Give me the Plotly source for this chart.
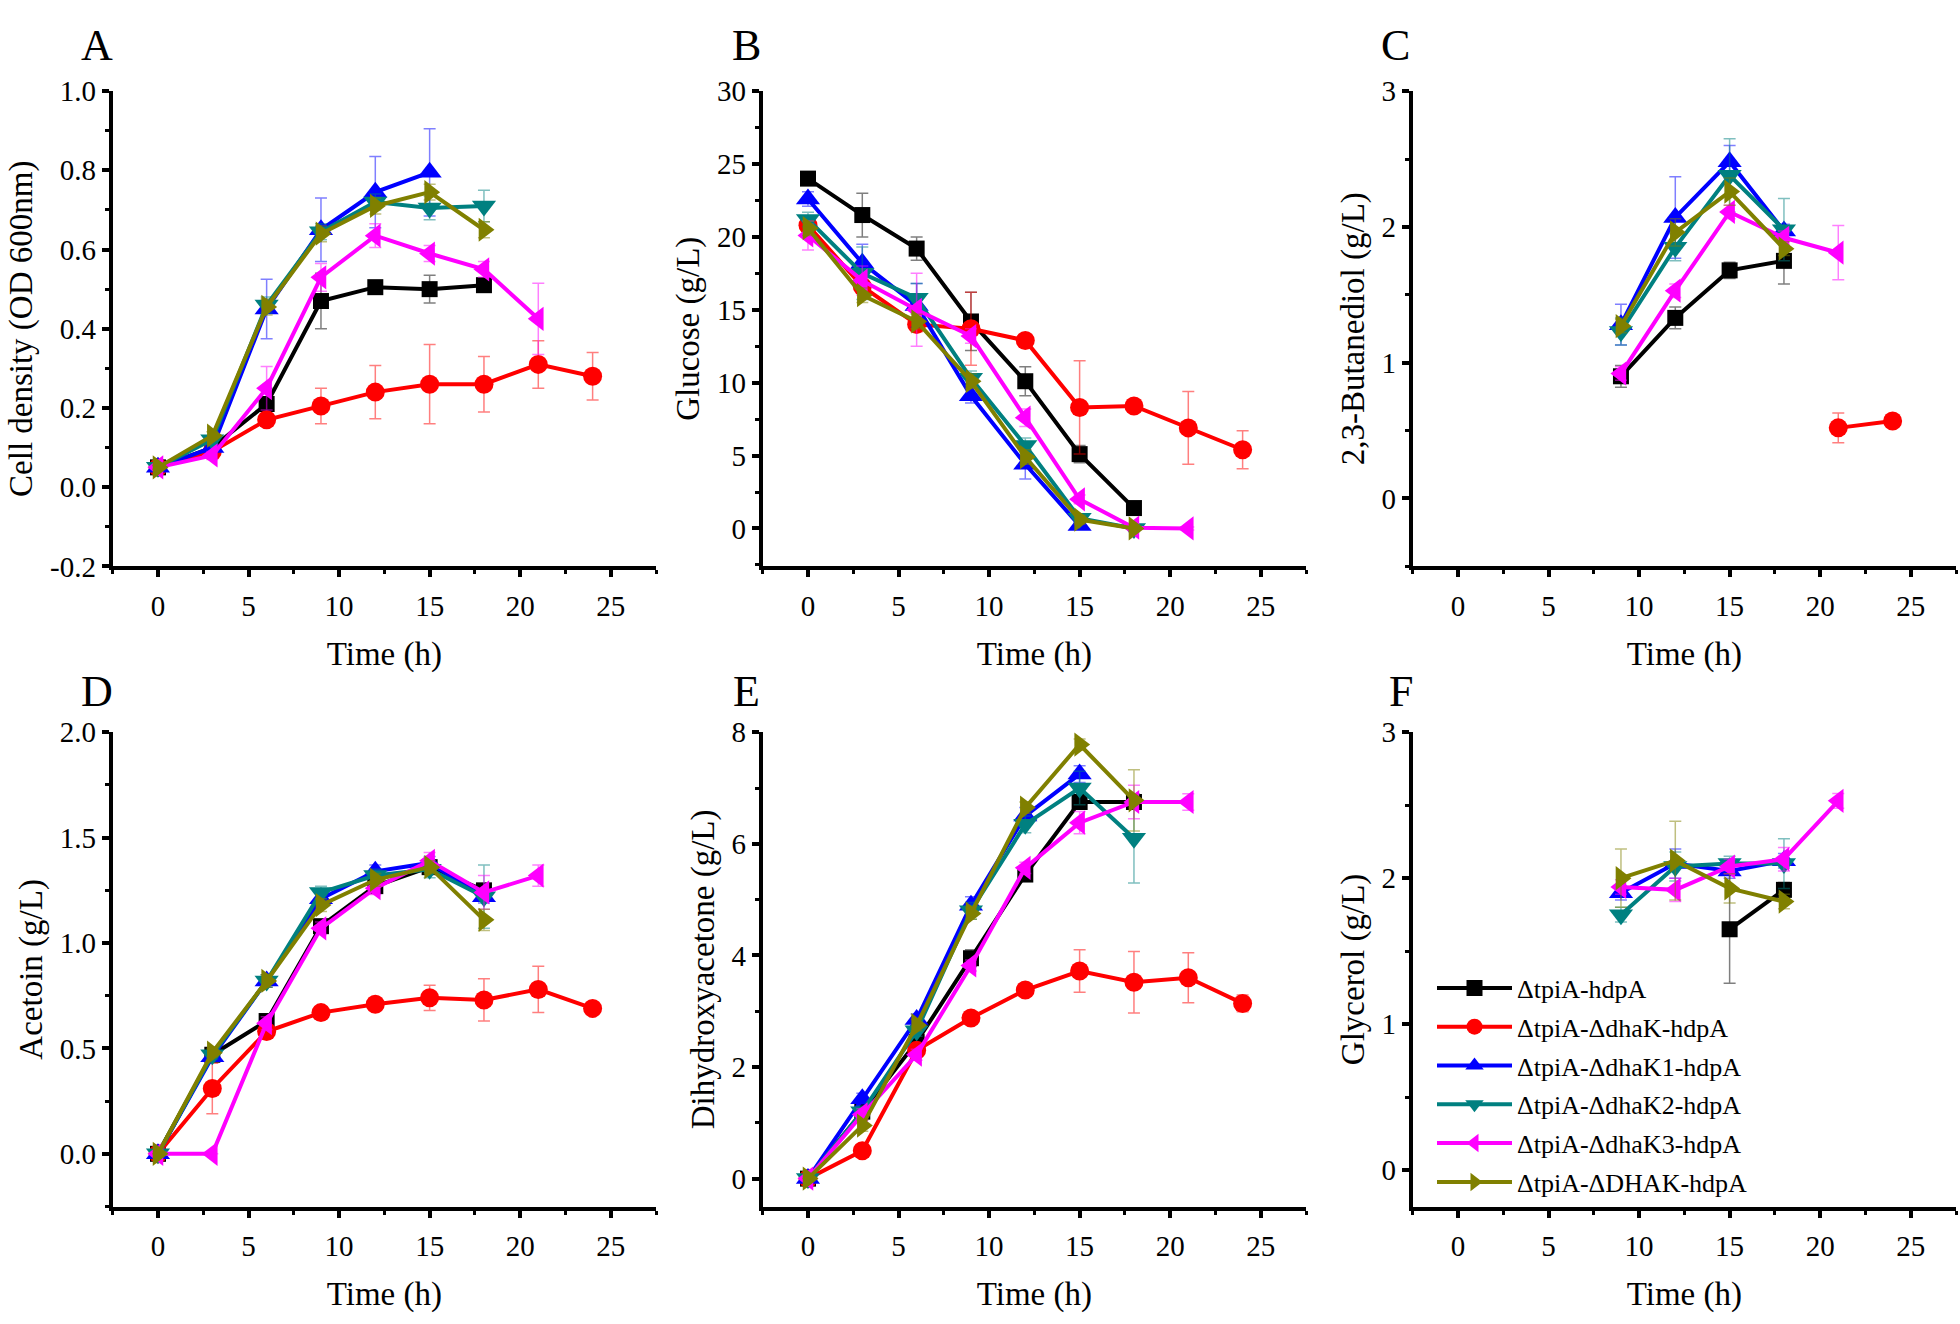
import plotly.graph_objects as go

N = None
TIME = [0, 3, 6, 9, 12, 15, 18, 21, 24]

STRAINS = ["ΔtpiA-hdpA", "ΔtpiA-ΔdhaK-hdpA", "ΔtpiA-ΔdhaK1-hdpA",
           "ΔtpiA-ΔdhaK2-hdpA", "ΔtpiA-ΔdhaK3-hdpA", "ΔtpiA-ΔDHAK-hdpA"]
COLORS = ["#000000", "#FF0000", "#0000FF", "#008080", "#FF00FF", "#808000"]
SYMBOLS = ["square", "circle", "triangle-up", "triangle-down", "triangle-left", "triangle-right"]
MARKER_SIZES = [16, 19, 21, 21, 21, 21]

# Panel A: cell density (OD600)
cell_density = [
    [0.05, 0.10, 0.21, 0.47, 0.505, 0.50, 0.51, N, N],
    [0.05, 0.09, 0.17, 0.205, 0.24, 0.26, 0.26, 0.31, 0.28],
    [0.05, 0.10, 0.45, 0.65, 0.745, 0.795, N, N, N],
    [0.05, 0.12, 0.46, 0.645, 0.72, 0.705, 0.71, N, N],
    [0.05, 0.08, 0.25, 0.53, 0.635, 0.59, 0.55, 0.425, N],
    [0.05, 0.13, 0.455, 0.64, 0.71, 0.745, 0.65, N, N],
]
cell_density_err = [
    [0.005, 0.01, 0.04, 0.07, 0.01, 0.035, 0.01, N, N],
    [0.005, 0.01, 0.01, 0.045, 0.067, 0.10, 0.07, 0.06, 0.06],
    [0.005, 0.01, 0.075, 0.08, 0.09, 0.11, N, N, N],
    [0.005, 0.01, 0.02, 0.02, 0.02, 0.03, 0.04, N, N],
    [0.005, 0.01, 0.055, 0.035, 0.03, 0.02, 0.02, 0.09, N],
    [0.005, 0.01, 0.02, 0.02, 0.02, 0.02, 0.02, N, N],
]

# Panel B: glucose (g/L)
glucose = [
    [24.0, 21.5, 19.2, 14.2, 10.1, 5.1, 1.4, N, N],
    [20.8, 16.6, 14.0, 13.7, 12.9, 8.3, 8.4, 6.9, 5.4],
    [22.6, 18.2, 15.3, 9.1, 4.4, 0.2, N, N, N],
    [21.2, 17.5, 15.8, 10.3, 5.7, 0.7, 0.0, N, N],
    [20.1, 17.0, 15.0, 13.2, 7.6, 2.0, 0.05, 0.0, N],
    [20.6, 16.0, 14.2, 10.1, 4.9, 0.6, 0.0, N, N],
]
glucose_err = [
    [0.3, 1.5, 0.8, 2.0, 1.0, 0.6, 0.3, N, N],
    [0.5, 0.5, 0.5, 2.5, 0.3, 3.2, 0.3, 2.5, 1.3],
    [0.5, 1.3, 1.5, 0.5, 1.0, 0.2, N, N, N],
    [0.5, 1.8, 1.0, 0.5, 0.5, 0.3, 0.2, N, N],
    [1.0, 1.0, 2.5, 0.5, 0.6, 0.3, 0.1, 0.1, N],
    [0.5, 0.5, 0.5, 0.5, 0.5, 0.3, 0.1, N, N],
]

# Panel C: 2,3-butanediol (g/L)
butanediol = [
    [N, N, N, 0.90, 1.33, 1.68, 1.75, N, N],
    [N, N, N, N, N, N, N, 0.52, 0.57],
    [N, N, N, 1.28, 2.07, 2.48, 1.97, N, N],
    [N, N, N, 1.23, 1.85, 2.38, 1.98, N, N],
    [N, N, N, 0.92, 1.53, 2.11, 1.92, 1.81, N],
    [N, N, N, 1.27, 1.96, 2.26, 1.84, N, N],
]
butanediol_err = [
    [N, N, N, 0.08, 0.08, 0.06, 0.17, N, N],
    [N, N, N, N, N, N, N, 0.11, 0.02],
    [N, N, N, 0.15, 0.30, 0.12, 0.05, N, N],
    [N, N, N, 0.10, 0.10, 0.27, 0.23, N, N],
    [N, N, N, 0.05, 0.05, 0.05, 0.05, 0.20, N],
    [N, N, N, 0.05, 0.10, 0.10, 0.05, N, N],
]

# Panel D: acetoin (g/L)
acetoin = [
    [0.0, 0.47, 0.63, 1.08, 1.27, 1.36, 1.25, N, N],
    [0.0, 0.31, 0.58, 0.67, 0.71, 0.74, 0.73, 0.78, 0.69],
    [0.0, 0.46, 0.82, 1.21, 1.34, 1.38, 1.22, N, N],
    [0.0, 0.47, 0.82, 1.24, 1.32, 1.35, 1.22, N, N],
    [0.0, 0.0, 0.62, 1.07, 1.26, 1.39, 1.24, 1.32, N],
    [0.0, 0.48, 0.82, 1.18, 1.30, 1.36, 1.11, N, N],
]
acetoin_err = [
    [0.0, 0.02, 0.03, 0.03, 0.03, 0.03, 0.03, N, N],
    [0.0, 0.12, 0.02, 0.02, 0.02, 0.06, 0.10, 0.11, 0.02],
    [0.0, 0.02, 0.03, 0.03, 0.03, 0.03, 0.03, N, N],
    [0.0, 0.02, 0.03, 0.03, 0.03, 0.04, 0.15, N, N],
    [0.0, 0.0, 0.03, 0.03, 0.03, 0.04, 0.08, 0.05, N],
    [0.0, 0.02, 0.03, 0.03, 0.03, 0.03, 0.05, N, N],
]

# Panel E: dihydroxyacetone (g/L)
dha = [
    [0.0, 1.20, 2.45, 3.95, 5.45, 6.75, 6.75, N, N],
    [0.0, 0.50, 2.30, 2.88, 3.38, 3.72, 3.52, 3.60, 3.14],
    [0.0, 1.43, 2.85, 4.90, 6.50, 7.25, N, N, N],
    [0.0, 1.20, 2.65, 4.80, 6.35, 7.00, 6.10, N, N],
    [0.0, 1.15, 2.22, 3.82, 5.57, 6.38, 6.75, 6.75, N],
    [0.0, 0.95, 2.75, 4.75, 6.65, 7.78, 6.78, N, N],
]
dha_err = [
    [0.0, 0.1, 0.1, 0.15, 0.1, 0.1, 0.1, N, N],
    [0.0, 0.1, 0.1, 0.1, 0.1, 0.38, 0.55, 0.45, 0.15],
    [0.0, 0.1, 0.1, 0.15, 0.15, 0.15, N, N, N],
    [0.0, 0.1, 0.1, 0.15, 0.15, 0.3, 0.8, N, N],
    [0.0, 0.1, 0.1, 0.1, 0.1, 0.2, 0.3, 0.15, N],
    [0.0, 0.1, 0.1, 0.1, 0.1, 0.1, 0.55, N, N],
]

# Panel F: glycerol (g/L)
glycerol = [
    [N, N, N, N, N, 1.65, 1.92, N, N],
    [N, N, N, N, N, N, N, N, N],
    [N, N, N, 1.90, 2.10, 2.05, 2.12, N, N],
    [N, N, N, 1.75, 2.08, 2.10, 2.10, N, N],
    [N, N, N, 1.94, 1.92, 2.08, 2.13, 2.53, N],
    [N, N, N, 2.00, 2.12, 1.93, 1.84, N, N],
]
glycerol_err = [
    [N, N, N, N, N, 0.37, 0.05, N, N],
    [N, N, N, N, N, N, N, N, N],
    [N, N, N, 0.05, 0.10, 0.05, 0.05, N, N],
    [N, N, N, 0.05, 0.10, 0.05, 0.17, N, N],
    [N, N, N, 0.05, 0.08, 0.05, 0.08, 0.05, N],
    [N, N, N, 0.20, 0.27, 0.10, 0.05, N, N],
]

PANEL_LETTERS = ["A", "B", "C", "D", "E", "F"]
Y_TITLES = ["Cell density (OD 600nm)", "Glucose (g/L)", "2,3-Butanediol (g/L)",
            "Acetoin (g/L)", "Dihydroxyacetone (g/L)", "Glycerol (g/L)"]
X_TITLE = "Time (h)"
X_TICKS = [0, 5, 10, 15, 20, 25]

panels = [
    (cell_density, cell_density_err, [-0.2, 1.0], 0.2, 0.1, ".1f"),
    (glucose, glucose_err, [-2.6, 30], 5, 2.5, "d"),
    (butanediol, butanediol_err, [-0.5, 3], 1, 0.5, "d"),
    (acetoin, acetoin_err, [-0.25, 2.0], 0.5, 0.25, ".1f"),
    (dha, dha_err, [-0.5, 8], 2, 1, "d"),
    (glycerol, glycerol_err, [-0.25, 3], 1, 0.5, "d"),
]

W, H = 1960, 1324
col_px = [(112.7, 656.0), (762.7, 1306.0), (1412.7, 1956.0)]
row_px = [(77.0, 564.0), (734.0, 1220.0)]
letter_pos = [(97, 30), (746, 30), (1395, 30), (97, 692), (746, 692), (1401, 692)]

FONT = "Liberation Serif"


def rgba(hexc, a):
    h = hexc.lstrip("#")
    return "rgba(%d,%d,%d,%.2f)" % (int(h[0:2], 16), int(h[2:4], 16), int(h[4:6], 16), a)


fig = go.Figure()
layout = dict(
    width=W, height=H,
    margin=dict(l=0, r=0, t=0, b=0),
    paper_bgcolor="white", plot_bgcolor="white",
    font=dict(family=FONT, color="black", size=29),
    annotations=[],
)

for p, (vals, errs, yr, dt, mdt, fmt) in enumerate(panels):
    r, c = divmod(p, 3)
    k = "" if p == 0 else str(p + 1)
    xa, ya = "xaxis" + k, "yaxis" + k
    x0, x1 = col_px[c]
    y0, y1 = row_px[r]
    common = dict(
        showline=True, linewidth=4, linecolor="black",
        ticks="outside", ticklen=7, tickwidth=4, tickcolor="black",
        showgrid=False, zeroline=False,
        tickfont=dict(family=FONT, size=29, color="black"),
        title_font=dict(family=FONT, size=33, color="black"),
    )
    layout[xa] = dict(
        common, domain=[x0 / W, x1 / W], anchor="y" + k,
        range=[-2.5, 27.5], tickmode="array", tickvals=X_TICKS,
        minor=dict(tickmode="linear", tick0=0, dtick=2.5, ticks="outside", ticklen=4,
                   tickwidth=3, tickcolor="black"),
        title=dict(text=X_TITLE, standoff=22),
        ticklabelstandoff=4,
    )
    tv = []
    v = 0.0
    while v <= yr[1] + 1e-9:
        tv.append(round(v, 4))
        v += dt
    if p == 0:
        tv = [-0.2] + tv
    if fmt == ".1f":
        tt = [("%.1f" % t) for t in tv]
    else:
        tt = [("%d" % round(t)) for t in tv]
    layout[ya] = dict(
        common, domain=[1 - y1 / H, 1 - y0 / H], anchor="x" + k,
        range=yr, tickmode="array", tickvals=tv, ticktext=tt,
        minor=dict(tickmode="linear", tick0=0, dtick=mdt, ticks="outside", ticklen=4,
                   tickwidth=3, tickcolor="black"),
        title=dict(text=Y_TITLES[p], standoff=8),
    )
    lx, ly = letter_pos[p]
    layout["annotations"].append(dict(
        text=PANEL_LETTERS[p], x=lx / W, y=1 - ly / H, xref="paper", yref="paper",
        showarrow=False, xanchor="center", yanchor="middle",
        font=dict(family=FONT, size=44, color="black")))

    for i in range(6):
        fig.add_trace(go.Scatter(
            x=TIME, y=vals[i], xaxis="x" + k, yaxis="y" + k,
            mode="lines+markers", name=STRAINS[i],
            showlegend=(p == 5), legendgroup="g%d" % i,
            connectgaps=False, cliponaxis=False,
            line=dict(color=COLORS[i], width=4),
            marker=dict(symbol=SYMBOLS[i], size=MARKER_SIZES[i], color=COLORS[i],
                        line=dict(width=0)),
            error_y=dict(type="data", array=errs[i], visible=True,
                         color=rgba(COLORS[i], 0.5), thickness=1.5, width=6),
        ))

layout["legend"] = dict(
    x=1432 / W, y=1 - 972 / H, xanchor="left", yanchor="top",
    bgcolor="rgba(0,0,0,0)", font=dict(family=FONT, size=26, color="black"),
    itemwidth=75, tracegroupgap=2,
)
fig.update_layout(**layout)
fig.write_html("out.html", config={"displayModeBar": False},
               post_script="document.body.style.margin='0px';")
